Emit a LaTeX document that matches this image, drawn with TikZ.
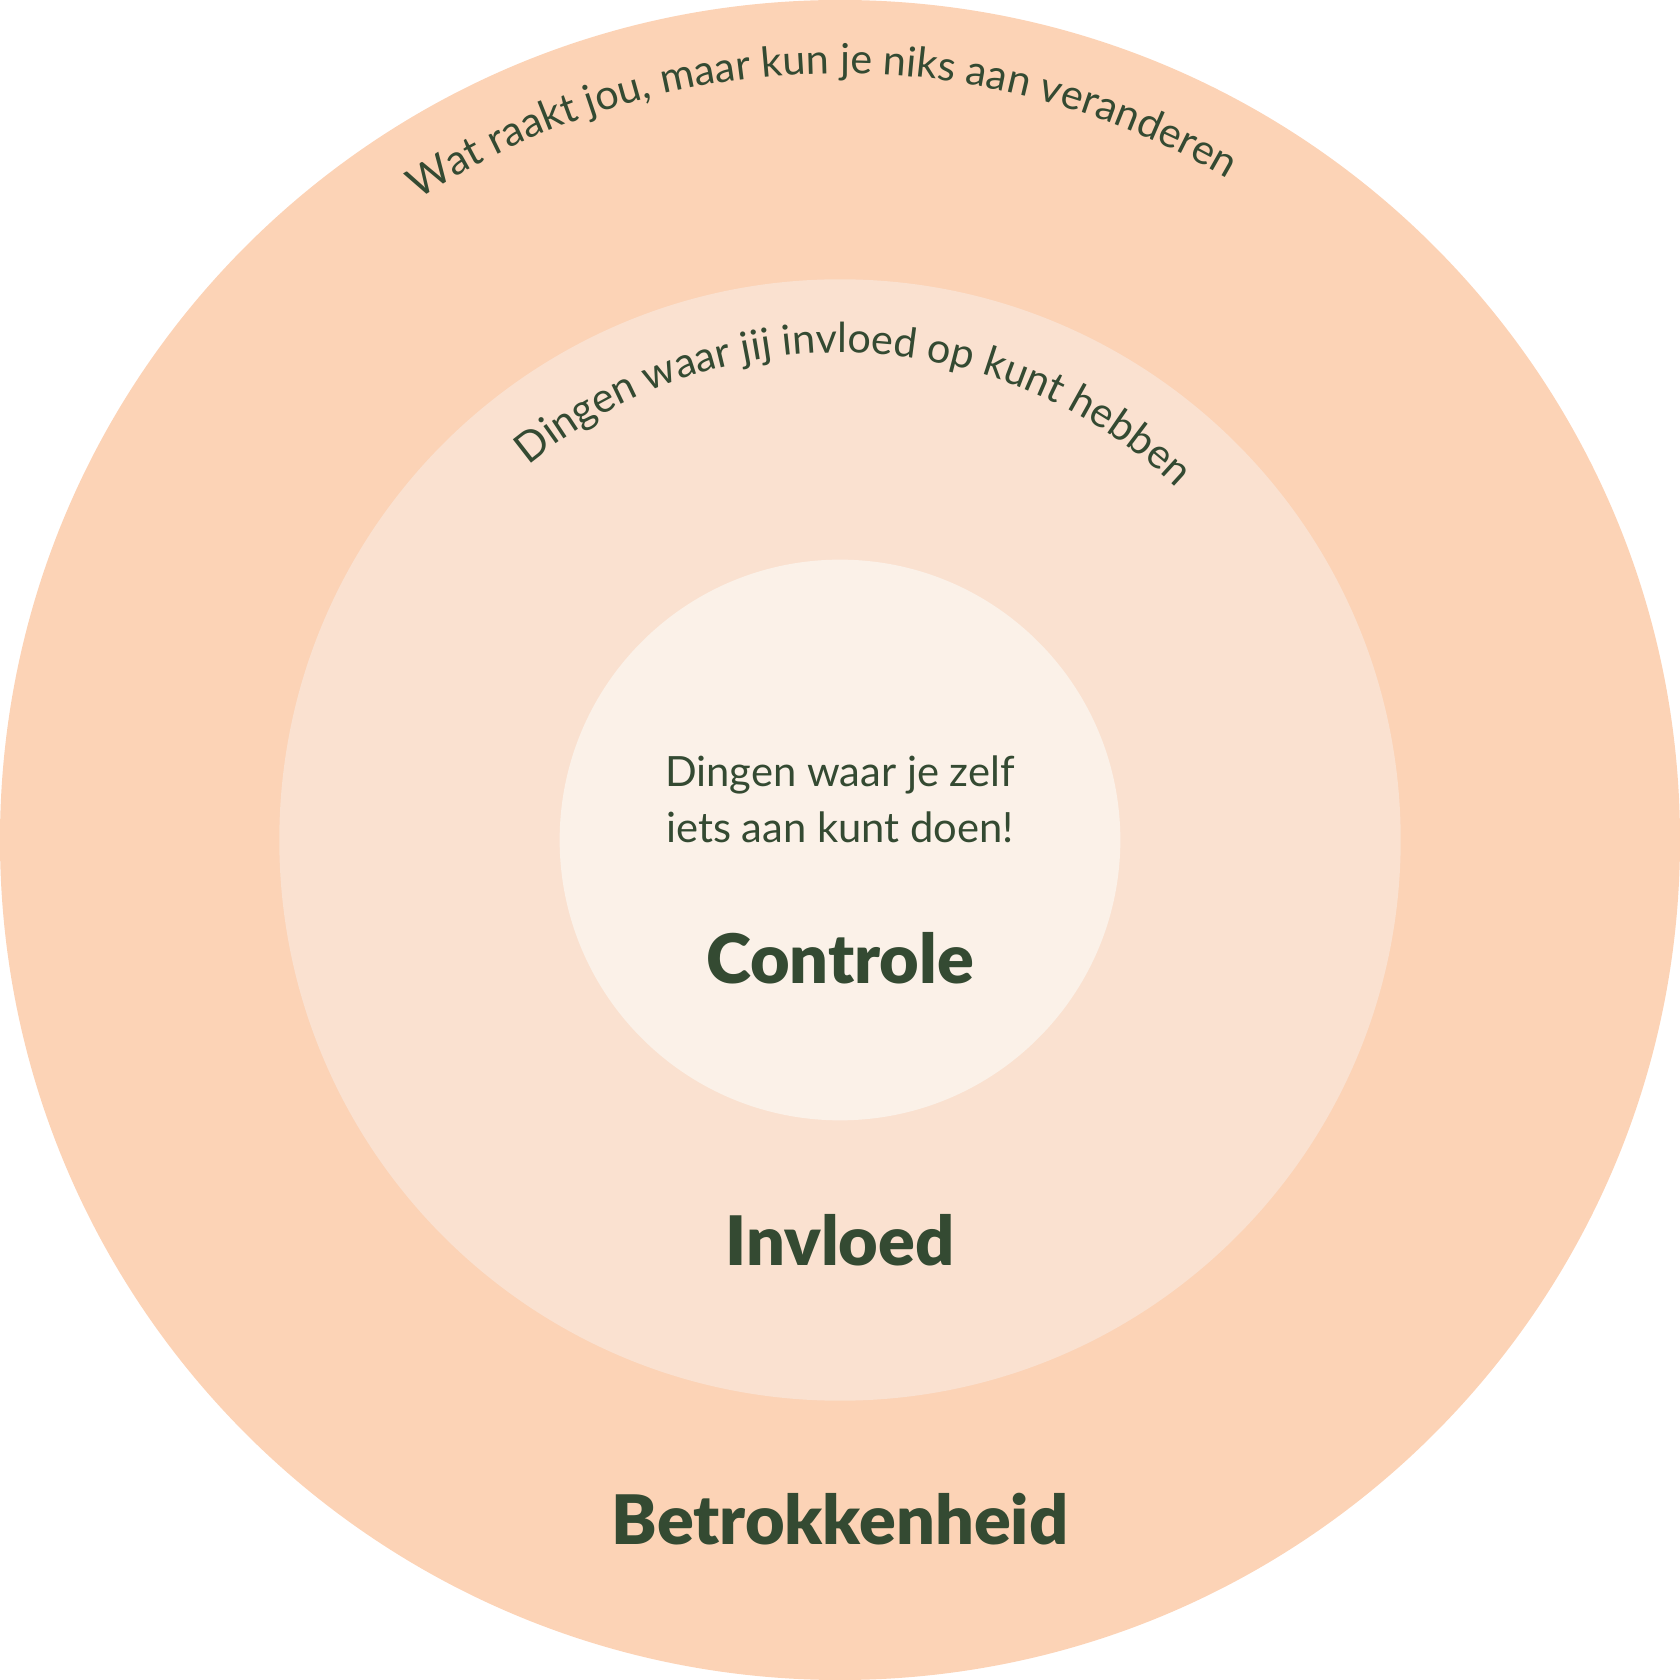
\documentclass[tikz,border=0pt]{standalone}
\usepackage{fontspec}
\setmainfont{Lato}
\newfontfamily\zwaar{Lato Black}
\usetikzlibrary{decorations.text}
\definecolor{ringout}{HTML}{FCD3B6}
\definecolor{ringmid}{HTML}{FAE1D0}
\definecolor{ringin}{HTML}{FBF1E8}
\definecolor{txtgreen}{HTML}{344A32}
\tikzset{
  lbl/.style={text=txtgreen,font=\fontsize{11.3}{15.3}\selectfont,align=center},
  kop/.style={text=txtgreen,font=\fontsize{18.5}{22}\selectfont\zwaar},
  arctxt/.style 2 args={decorate,decoration={text along path,text align=center,
      text color=txtgreen,text={|\fontsize{#1}{14}\selectfont|#2}}}
}
\begin{document}
\begin{tikzpicture}
                \useasboundingbox (-8,-8) rectangle (8,8);
                \fill[ringout] (0,0) circle (8cm);
                \fill[ringmid] (0,0) circle (5.34cm);
                \fill[ringin] (0,0) circle (2.67cm);
                \path[arctxt={11.2}{Wat raakt jou, maar kun je niks aan veranderen}] (151.5:7.3) arc[start angle=151.5,end angle=31.5,radius=7.3];
                \path[arctxt={11.2}{Dingen waar jij invloed op kunt hebben}] (158:4.64) arc[start angle=158,end angle=18,radius=4.64];
                \node[lbl] (zelf) at (0,0.39) {Dingen waar je zelf\\iets aan kunt doen!};
                \node[kop] (ctrl) at (0,-1.13) {Controle};
                \node[kop] (infl) at (0,-3.81) {Invloed};
                \node[kop] (betr) at (0,-6.47) {Betrokkenheid};
            \end{tikzpicture}
\end{document}
